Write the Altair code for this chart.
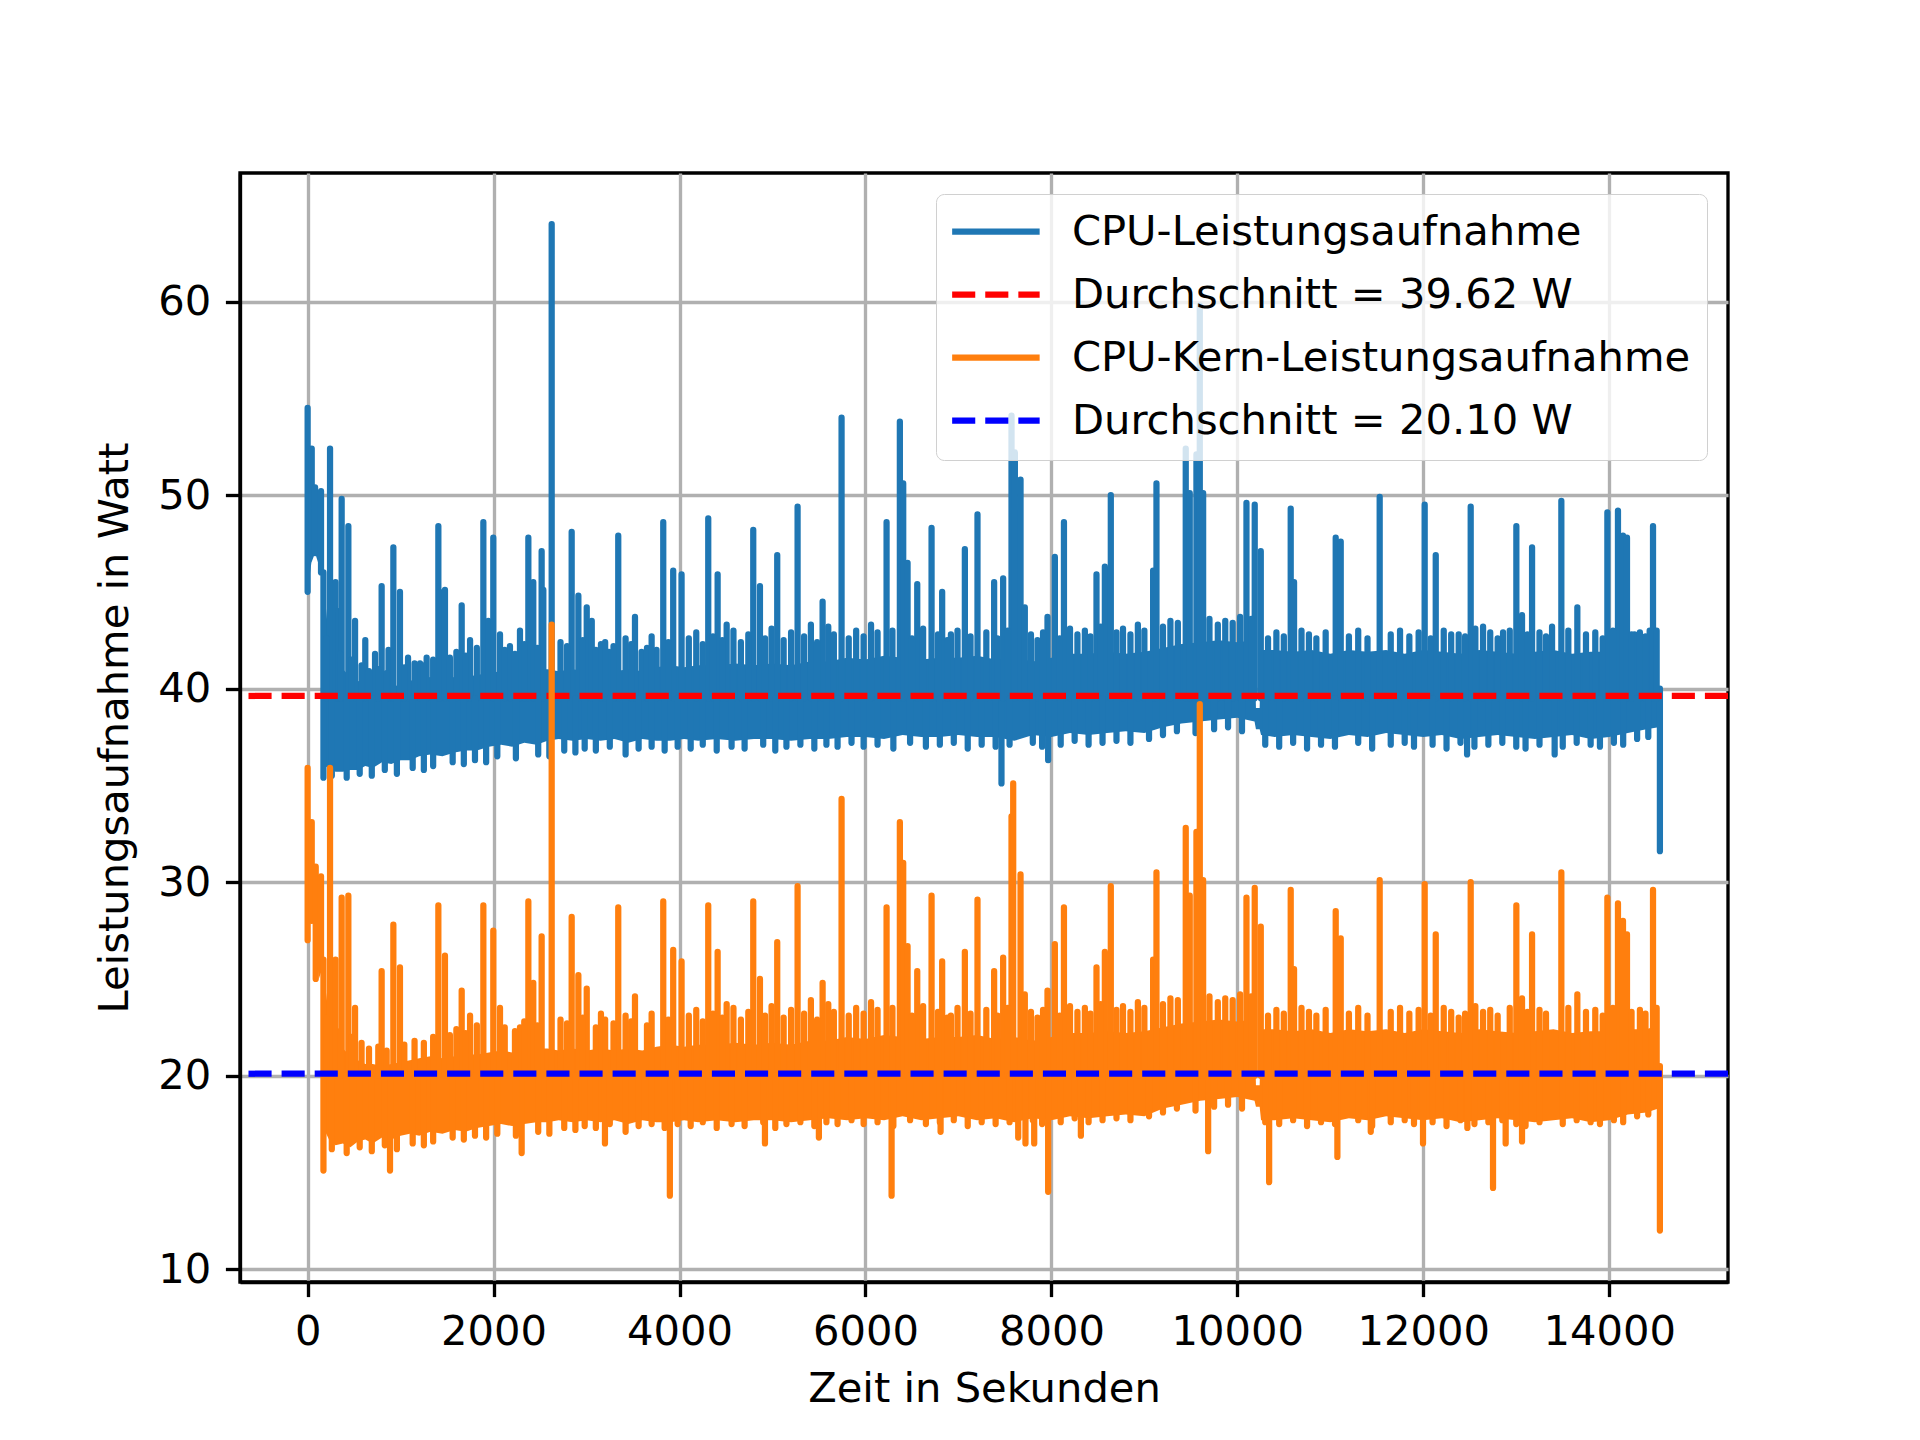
import altair as alt
import pandas as pd

# ---------------- data ----------------
band_t = [0, 40, 80, 120, 155, 180, 230, 300, 380, 460, 540, 620, 700, 800, 900, 1000, 1100, 1200,
          1320, 1450, 1580, 1700, 1820, 1950, 2080, 2200, 2330, 2460, 2580, 2700, 2850, 3000, 3150,
          3300, 3450, 3600, 3750, 3900, 4050, 4200, 4400, 4600, 4800, 5000, 5200, 5400, 5600, 5800,
          6000, 6200, 6400, 6600, 6800, 7000, 7200, 7400, 7600, 7800, 8000, 8200, 8400, 8600, 8800,
          9000, 9200, 9400, 9600, 9800, 10000, 10185, 10200, 10240, 10255, 10400, 10600, 10800,
          11000, 11200, 11400, 11600, 11800, 12000, 12200, 12400, 12600, 12800, 13000, 13200, 13400,
          13600, 13800, 14000, 14200, 14400, 14530]

cpu_low = [45.0, 46.5, 47.0, 46.4, 46.0, 36.0, 35.9, 35.7, 35.7, 35.8, 35.8, 36.0, 35.9, 36.2, 36.1,
           36.3, 36.3, 36.5, 36.6, 36.5, 36.7, 36.8, 36.8, 37.0, 37.1, 37.0, 37.2, 37.1, 37.3, 37.4,
           37.3, 37.4, 37.3, 37.4, 37.2, 37.4, 37.3, 37.3, 37.4, 37.3, 37.4, 37.3, 37.4, 37.4, 37.3,
           37.4, 37.4, 37.5, 37.5, 37.4, 37.6, 37.5, 37.5, 37.6, 37.5, 37.5, 37.3, 37.6, 37.5, 37.7,
           37.6, 37.7, 37.8, 37.7, 38.0, 38.2, 38.3, 38.4, 38.5, 38.3, 37.9, 37.9, 37.6, 37.5, 37.6,
           37.5, 37.4, 37.6, 37.5, 37.7, 37.6, 37.5, 37.6, 37.4, 37.5, 37.6, 37.5, 37.4, 37.5, 37.6,
           37.4, 37.5, 37.7, 37.9, 38.0]
cpu_high = [50.0, 50.3, 50.4, 50.1, 49.0, 45.0, 42.5, 41.5, 41.0, 40.6, 40.4, 40.2, 40.1, 40.0, 40.1,
            40.2, 40.4, 40.5, 40.6, 40.5, 40.6, 40.6, 40.7, 40.8, 40.9, 40.8, 40.9, 41.0, 41.0, 40.9,
            41.0, 40.9, 41.0, 40.9, 41.0, 40.9, 41.1, 41.2, 41.1, 41.2, 41.2, 41.3, 41.2, 41.3, 41.2,
            41.4, 41.4, 41.6, 41.5, 41.7, 41.6, 41.5, 41.6, 41.6, 41.7, 41.5, 41.6, 41.4, 41.6, 41.8,
            41.8, 41.9, 41.8, 41.9, 42.1, 42.3, 42.4, 42.5, 42.4, 42.5, 39.0, 39.0, 42.0, 42.0, 41.9,
            42.0, 41.8, 42.0, 41.9, 42.0, 41.8, 42.0, 41.9, 41.8, 42.0, 41.9, 41.8, 41.9, 42.0, 41.8,
            41.9, 41.9, 42.0, 42.0, 42.2]

core_low = [27.0, 28.5, 27.5, 25.0, 25.5, 17.2, 16.7, 16.4, 16.5, 16.3, 16.6, 16.7, 16.5, 16.8, 16.7,
            16.9, 17.0, 16.9, 17.1, 17.0, 17.2, 17.1, 17.3, 17.4, 17.5, 17.4, 17.5, 17.6, 17.6, 17.7,
            17.6, 17.7, 17.6, 17.7, 17.5, 17.7, 17.6, 17.6, 17.7, 17.6, 17.7, 17.6, 17.7, 17.7, 17.6,
            17.7, 17.8, 17.7, 17.8, 17.7, 17.9, 17.7, 17.8, 17.9, 17.7, 17.8, 17.6, 17.8, 17.7, 17.9,
            17.8, 17.9, 18.0, 17.9, 18.3, 18.5, 18.7, 18.8, 18.9, 18.7, 18.4, 18.4, 17.7, 17.7, 17.8,
            17.7, 17.6, 17.8, 17.7, 17.9, 17.8, 17.7, 17.8, 17.6, 17.7, 17.8, 17.7, 17.6, 17.7, 17.8,
            17.6, 17.7, 18.0, 18.1, 18.3]
core_high = [31.5, 30.8, 30.5, 29.5, 29.0, 25.0, 23.0, 22.1, 21.4, 21.0, 20.8, 20.6, 20.6, 20.5, 20.6,
             20.7, 20.8, 20.9, 21.0, 20.9, 21.0, 21.1, 21.1, 21.2, 21.3, 21.2, 21.3, 21.4, 21.4, 21.3,
             21.4, 21.3, 21.4, 21.3, 21.4, 21.3, 21.5, 21.6, 21.5, 21.6, 21.6, 21.7, 21.6, 21.7, 21.6,
             21.8, 21.8, 22.0, 21.9, 22.1, 22.0, 21.9, 22.0, 22.0, 22.1, 21.9, 22.0, 21.8, 22.0, 22.2,
             22.2, 22.3, 22.2, 22.3, 22.5, 22.7, 22.8, 22.9, 22.8, 22.9, 19.5, 19.5, 22.4, 22.4, 22.3,
             22.4, 22.2, 22.4, 22.3, 22.4, 22.2, 22.4, 22.3, 22.2, 22.4, 22.3, 22.2, 22.3, 22.4, 22.2,
             22.3, 22.3, 22.4, 22.4, 22.6]

# centre level of each band (spikes and hairs start there)
cpu_level = 39.5
core_level = 20.0

# short hairs along the upper / lower band edges
hair_top_t = [200, 350, 470, 580, 660, 760, 850, 1040, 1150, 1250, 1350, 1530, 1600, 1700, 1820,
              2120, 2230, 2330, 2470, 2720, 2790, 2960, 3100, 3200, 3290, 3420, 3480, 3650, 3700,
              3880, 4100, 4180, 4250, 4360, 4460, 4580, 4660, 4740, 4920, 4990, 5120, 5200, 5340,
              5480, 5600, 5660, 5820, 5900, 5980, 6060, 6130, 6290, 6500, 6620, 6780, 6880, 6990,
              7130, 7300, 7420, 7530, 7780, 7850, 7910, 8090, 8200, 8280, 8360, 8420, 8530, 8700,
              8770, 8850, 8930, 9000, 9200, 9280, 9360, 9700, 9790, 9870, 9950, 10030, 10150,
              10330, 10420, 10500, 10690, 10770, 10850, 10950, 11200, 11300, 11400, 11650, 11750,
              11850, 11950, 12080, 12220, 12300, 12450, 12560, 12720, 12800, 12930, 13120, 13250,
              13320, 13560, 13750, 13850, 13930, 14040, 14240, 14330, 14390, 14510]
cpu_hair_top = [42.6, 41.8, 41.5, 41.2, 40.9, 41.0, 40.8, 41.1, 41.3, 41.2,
                41.5, 41.6, 41.9, 41.7, 42.1, 42.0, 41.8, 42.3, 42.1, 42.4,
                42.2, 42.5, 42.0, 42.4, 42.2, 42.6, 42.3, 42.1, 42.7, 42.4,
                42.6, 42.9, 42.3, 42.7, 42.5, 43.0, 42.4, 42.8, 42.6, 43.1,
                42.5, 42.9, 42.7, 42.4, 43.2, 42.8, 42.6, 43.0, 42.7, 43.3,
                42.9, 43.0, 42.6, 43.1, 42.8, 42.5, 43.0, 42.7, 42.9, 42.6,
                43.0, 42.8, 42.5, 42.9, 42.6, 43.1, 42.8, 43.0, 42.7, 43.2,
                42.9, 43.1, 42.8, 43.3, 43.0, 43.2, 43.5, 43.4, 43.6, 43.3,
                43.5, 43.4, 43.7, 43.6, 42.6, 42.9, 42.7, 43.0, 42.8, 42.6,
                42.9, 42.7, 43.0, 42.6, 42.8, 43.0, 42.7, 42.9, 42.6, 43.0,
                42.8, 42.7, 43.1, 42.9, 42.6, 43.0, 42.8, 42.9, 42.7, 43.0,
                42.8, 42.9, 42.6, 43.0, 42.8, 42.9, 42.7, 43.0]
core_hair_top = [23.0, 22.3, 22.0, 21.7, 21.4, 21.5, 21.3, 21.6, 21.8, 21.7,
                 22.0, 22.1, 22.4, 22.2, 22.6, 22.5, 22.3, 22.8, 22.6, 22.9,
                 22.7, 23.0, 22.5, 22.9, 22.7, 23.1, 22.8, 22.6, 23.2, 22.9,
                 23.1, 23.4, 22.8, 23.2, 23.0, 23.5, 22.9, 23.3, 23.1, 23.6,
                 23.0, 23.4, 23.2, 22.9, 23.7, 23.3, 23.1, 23.5, 23.2, 23.8,
                 23.4, 23.5, 23.1, 23.6, 23.3, 23.0, 23.5, 23.2, 23.4, 23.1,
                 23.5, 23.3, 23.0, 23.4, 23.1, 23.6, 23.3, 23.5, 23.2, 23.7,
                 23.4, 23.6, 23.3, 23.8, 23.5, 23.7, 24.0, 23.9, 24.1, 23.8,
                 24.0, 23.9, 24.2, 24.1, 23.1, 23.4, 23.2, 23.5, 23.3, 23.1,
                 23.4, 23.2, 23.5, 23.1, 23.3, 23.5, 23.2, 23.4, 23.1, 23.5,
                 23.3, 23.2, 23.6, 23.4, 23.1, 23.5, 23.3, 23.4, 23.2, 23.5,
                 23.3, 23.4, 23.1, 23.5, 23.3, 23.4, 23.2, 23.5]

hair_bot_t = [260, 420, 560, 690, 830, 960, 1130, 1250, 1350, 1560, 1680, 1800, 1920, 2040, 2240,
              2480, 2600, 2760, 2880, 2980, 3100, 3250, 3420, 3560, 3700, 3840, 3980, 4120, 4250,
              4400, 4560, 4700, 4900, 5030, 5150, 5300, 5450, 5580, 5700, 5850, 5980, 6130, 6300,
              6480, 6650, 6800, 6950, 7100, 7250, 7400, 7550, 7800, 7900, 8100, 8250, 8400, 8550,
              8700, 8850, 9050, 9200, 9350, 9550, 9750, 9900, 10050, 10300, 10450, 10600, 10750,
              10900, 11050, 11300, 11450, 11650, 11800, 11900, 12100, 12250, 12400, 12550, 12700,
              12850, 13000, 13100, 13250, 13500, 13650, 13800, 13900, 14050, 14150, 14300, 14420]
cpu_hair_bot = [35.5, 35.4, 35.6, 35.5, 35.8, 35.6, 35.9, 35.8, 36.0, 36.2,
                36.1, 36.3, 36.2, 36.5, 36.4, 36.6, 36.5, 36.8, 36.7, 36.9,
                36.8, 37.0, 36.6, 36.9, 37.0, 36.8, 37.0, 36.9, 37.1, 36.8,
                37.0, 36.9, 37.1, 36.8, 37.0, 37.1, 36.9, 37.1, 37.0, 37.2,
                37.0, 37.1, 36.9, 37.2, 37.0, 37.1, 37.2, 36.9, 37.1, 37.0,
                37.1, 37.2, 37.0, 37.1, 37.3, 37.1, 37.2, 37.3, 37.2, 37.4,
                37.6, 37.8, 37.7, 37.9, 38.0, 37.8, 37.1, 37.0, 37.2, 36.9,
                37.1, 37.0, 37.2, 36.9, 37.1, 37.2, 37.0, 37.1, 36.9, 37.2,
                37.0, 37.1, 37.2, 37.0, 36.9, 37.1, 37.0, 37.2, 37.1, 37.0,
                37.2, 37.1, 37.4, 37.5]
core_hair_bot = [16.2, 16.0, 16.3, 16.1, 16.4, 16.2, 16.5, 16.4, 16.6, 16.8,
                 16.7, 16.9, 16.8, 17.0, 16.9, 17.1, 17.0, 17.3, 17.2, 17.4,
                 17.3, 17.5, 17.1, 17.4, 17.5, 17.3, 17.5, 17.4, 17.6, 17.3,
                 17.5, 17.4, 17.6, 17.3, 17.5, 17.6, 17.4, 17.6, 17.5, 17.7,
                 17.5, 17.6, 17.4, 17.7, 17.5, 17.6, 17.7, 17.4, 17.6, 17.5,
                 17.6, 17.7, 17.5, 17.6, 17.8, 17.6, 17.7, 17.8, 17.7, 17.9,
                 18.1, 18.3, 18.2, 18.4, 18.5, 18.3, 17.6, 17.5, 17.7, 17.4,
                 17.6, 17.5, 17.7, 17.4, 17.6, 17.7, 17.5, 17.6, 17.4, 17.7,
                 17.5, 17.6, 17.7, 17.5, 17.4, 17.6, 17.5, 17.7, 17.6, 17.5,
                 17.7, 17.6, 17.9, 18.0]

# spikes as (time, from, to)
cpu_spikes = [
    (0, 45.0, 54.5), (44, 47.0, 52.4), (80, 47.0, 50.4), (144, 46.0, 50.2), (170, 35.4, 46.0),
    (241, 39.5, 52.4), (300, 39.5, 45.5), (330, 39.5, 44.0), (366, 39.5, 49.8), (438, 39.5, 48.4),
    (510, 39.5, 43.5), (620, 39.5, 42.5), (725, 39.5, 41.8), (796, 39.5, 45.3), (870, 39.5, 42.0),
    (922, 39.5, 47.3), (993, 39.5, 45.0), (1080, 39.5, 41.6), (1209, 39.5, 41.3), (1280, 39.5, 41.6),
    (1406, 39.5, 48.4), (1420, 39.5, 45.0), (1477, 39.5, 45.1), (1657, 39.5, 44.3), (1747, 39.5, 42.5),
    (1890, 39.5, 48.6), (1943, 39.5, 43.5), (1997, 39.5, 47.8), (2069, 39.5, 42.8), (2176, 39.5, 42.2),
    (2284, 39.5, 43.0), (2374, 39.5, 47.8), (2427, 39.5, 45.5), (2517, 39.5, 47.1), (2535, 39.5, 45.1),
    (2625, 39.5, 64.0), (2840, 39.5, 48.1), (2912, 39.5, 44.8), (3002, 39.5, 44.2), (3056, 39.5, 43.5),
    (3155, 39.5, 42.3), (3241, 39.5, 41.9), (3341, 39.5, 47.9), (3521, 39.5, 43.7), (3592, 39.5, 41.9),
    (3753, 39.5, 42.0), (3825, 39.5, 48.6), (3932, 39.5, 46.1), (4022, 39.5, 45.9), (4309, 39.5, 48.8),
    (4410, 39.5, 45.9), (4507, 39.5, 43.3), (4793, 39.5, 48.2), (4865, 39.5, 45.3), (5051, 39.5, 46.9),
    (5270, 39.5, 49.4), (5413, 39.5, 43.3), (5539, 39.5, 44.5), (5743, 39.5, 54.0), (6227, 39.5, 48.6),
    (6370, 39.5, 53.8), (6406, 39.5, 50.6), (6453, 39.5, 46.5), (6557, 39.5, 45.4), (6711, 39.5, 48.3),
    (6825, 39.5, 45.0), (6919, 39.5, 42.8), (7069, 39.5, 47.2), (7205, 39.5, 49.0), (7384, 39.5, 45.5),
    (7463, 35.1, 39.5), (7481, 39.5, 45.7), (7571, 39.5, 54.1), (7607, 39.5, 52.2), (7668, 39.5, 50.8),
    (7714, 39.5, 44.2), (7958, 39.5, 43.7), (7965, 36.3, 39.5), (8037, 39.5, 46.8), (8135, 39.5, 48.6),
    (8485, 39.5, 45.9), (8575, 39.5, 46.3), (8639, 39.5, 50.0), (9094, 39.5, 46.1), (9130, 39.5, 50.6),
    (9445, 39.5, 52.4), (9488, 39.5, 50.1), (9560, 39.5, 52.1), (9596, 39.5, 59.8), (9632, 39.5, 50.1),
    (10098, 39.5, 49.6), (10187, 39.5, 49.5), (10252, 39.5, 47.1), (10574, 39.5, 49.3), (10610, 39.5, 45.5),
    (11058, 39.5, 47.8), (11112, 39.5, 47.6), (11531, 39.5, 49.9), (12015, 39.5, 49.5), (12134, 39.5, 46.9),
    (12381, 39.5, 42.8), (12471, 36.6, 39.5), (12510, 39.5, 49.4), (12643, 39.5, 43.2), (12858, 39.5, 42.9),
    (13001, 39.5, 48.4), (13062, 39.5, 43.8), (13170, 39.5, 47.3), (13385, 39.5, 43.2), (13413, 36.6, 39.5),
    (13485, 39.5, 49.7), (13657, 39.5, 44.2), (13980, 39.5, 49.1), (14094, 39.5, 49.2), (14148, 39.5, 47.9),
    (14191, 39.5, 47.8), (14273, 39.5, 42.8), (14435, 39.5, 43.0), (14471, 39.5, 48.4), (14545, 31.6, 40.0),
]

core_spikes = [
    (0, 27.0, 35.9), (44, 28.0, 33.1), (87, 25.0, 30.8), (144, 25.5, 30.3), (170, 15.1, 26.0),
    (241, 20.0, 35.9), (300, 20.0, 26.0), (366, 20.0, 29.2), (438, 20.0, 29.3), (510, 20.0, 23.5),
    (796, 20.0, 25.4), (886, 15.1, 20.0), (922, 20.0, 27.8), (993, 20.0, 25.6), (1406, 20.0, 28.8),
    (1477, 20.0, 26.2), (1657, 20.0, 24.4), (1747, 20.0, 23.1), (1890, 20.0, 28.8), (1997, 20.0, 27.5),
    (2069, 20.0, 23.5), (2284, 20.0, 22.5), (2302, 16.0, 20.0), (2374, 20.0, 29.0), (2427, 20.0, 24.8),
    (2517, 20.0, 27.2), (2625, 20.0, 43.3), (2840, 20.0, 28.2), (2912, 20.0, 25.2), (3002, 20.0, 24.5),
    (3155, 20.0, 23.2), (3198, 16.5, 20.0), (3341, 20.0, 28.7), (3521, 20.0, 24.1), (3825, 20.0, 29.0),
    (3896, 13.8, 20.0), (3932, 20.0, 26.5), (4022, 20.0, 25.9), (4309, 20.0, 28.8), (4410, 20.0, 26.4),
    (4507, 20.0, 23.7), (4793, 20.0, 29.0), (4865, 20.0, 25.0), (4919, 16.5, 20.0), (5051, 20.0, 26.9),
    (5270, 20.0, 29.8), (5413, 20.0, 23.9), (5499, 16.8, 20.0), (5539, 20.0, 24.8), (5743, 20.0, 34.3),
    (6227, 20.0, 28.7), (6281, 13.8, 20.0), (6370, 20.0, 33.1), (6406, 20.0, 31.0), (6453, 20.0, 26.7),
    (6557, 20.0, 25.4), (6711, 20.0, 29.3), (6808, 17.1, 20.0), (6825, 20.0, 25.9), (6919, 20.0, 23.1),
    (7069, 20.0, 26.4), (7205, 20.0, 29.1), (7384, 20.0, 25.4), (7481, 20.0, 26.1), (7571, 20.0, 33.4),
    (7589, 20.0, 35.1), (7643, 16.8, 20.0), (7668, 20.0, 30.4), (7714, 20.0, 24.2), (7721, 16.5, 20.0),
    (7815, 16.5, 20.0), (7958, 20.0, 24.4), (7965, 14.0, 20.0), (8037, 20.0, 26.8), (8135, 20.0, 28.7),
    (8317, 16.9, 20.0), (8485, 20.0, 25.6), (8575, 20.0, 26.4), (8639, 20.0, 29.8), (9094, 20.0, 26.0),
    (9130, 20.0, 30.5), (9445, 20.0, 32.8), (9488, 20.0, 29.3), (9560, 20.0, 32.6), (9596, 20.0, 39.2),
    (9632, 20.0, 30.1), (9686, 16.1, 20.0), (10098, 20.0, 29.2), (10187, 20.0, 29.7), (10252, 20.0, 27.7),
    (10342, 14.5, 20.0), (10574, 20.0, 29.6), (10610, 20.0, 25.5), (11058, 20.0, 28.5), (11076, 15.8, 20.0),
    (11112, 20.0, 27.1), (11435, 17.1, 20.0), (11531, 20.0, 30.1), (11997, 16.5, 20.0), (12015, 20.0, 29.9),
    (12134, 20.0, 27.3), (12381, 20.0, 23.0), (12474, 17.3, 20.0), (12510, 20.0, 30.0), (12643, 20.0, 23.3),
    (12750, 14.2, 20.0), (12886, 16.5, 20.0), (13001, 20.0, 28.8), (13062, 16.6, 24.0), (13170, 20.0, 27.3),
    (13485, 20.0, 30.5), (13657, 20.0, 24.2), (13980, 20.0, 29.2), (14094, 20.0, 28.9), (14148, 20.0, 28.0),
    (14191, 20.0, 27.3), (14471, 20.0, 29.6), (14545, 12.0, 20.5),
]

mean_labels = ["Durchschnitt = 39.62 W", "Durchschnitt = 20.10 W"]
mean_values = [39.62, 20.10]

series_names = ["CPU-Leistungsaufnahme", "Durchschnitt = 39.62 W",
                "CPU-Kern-Leistungsaufnahme", "Durchschnitt = 20.10 W"]
series_colors = ["#1f77b4", "#ff0000", "#ff7f0e", "#0000ff"]
series_dashes = [[1, 0], [23.1, 10], [1, 0], [23.1, 10]]

x_ticks = [0, 2000, 4000, 6000, 8000, 10000, 12000, 14000]
y_ticks = [10, 20, 30, 40, 50, 60]


# ---------------- tables ----------------
def rules_table(spikes, top_t, top_v, bot_t, bot_v, level, name):
    rows = list(spikes)
    rows += [(t, level, v) for t, v in zip(top_t, top_v)]
    rows += [(t, v, level) for t, v in zip(bot_t, bot_v)]
    df = pd.DataFrame(rows, columns=["t", "lo", "hi"])
    df["series"] = name
    return df


cpu_band = pd.DataFrame({"t": band_t, "lo": cpu_low, "hi": cpu_high})
core_band = pd.DataFrame({"t": band_t, "lo": core_low, "hi": core_high})
cpu_rules = rules_table(cpu_spikes, hair_top_t, cpu_hair_top, hair_bot_t, cpu_hair_bot,
                        cpu_level, series_names[0])
core_rules = rules_table(core_spikes, hair_top_t, core_hair_top, hair_bot_t, core_hair_bot,
                         core_level, series_names[2])
means = pd.DataFrame({"series": mean_labels, "v": mean_values})

FS = 41.67
LW = 6.25

xscale = alt.Scale(domain=[-727.5, 15277.5], nice=False, zero=False)
yscale = alt.Scale(domain=[9.34, 66.64], nice=False, zero=False)
xaxis = alt.Axis(values=x_ticks, format="d", title="Zeit in Sekunden")
yaxis = alt.Axis(values=y_ticks, format="d", title="Leistungsaufnahme in Watt")

color = alt.Color("series:N", title=None,
                  scale=alt.Scale(domain=series_names, range=series_colors))
dash = alt.StrokeDash("series:N", title=None,
                      scale=alt.Scale(domain=series_names, range=series_dashes))


def band_layer(df, col):
    return alt.Chart(df).mark_area(color=col, opacity=1).encode(
        x=alt.X("t:Q", scale=xscale, axis=xaxis),
        y=alt.Y("lo:Q", scale=yscale, axis=yaxis),
        y2="hi:Q",
    )


def spike_layer(df):
    return alt.Chart(df).mark_rule(strokeWidth=LW, strokeCap="round").encode(
        x=alt.X("t:Q", scale=xscale, axis=xaxis),
        y=alt.Y("lo:Q", scale=yscale, axis=yaxis),
        y2="hi:Q",
        color=color,
        strokeDash=dash,
    )


def mean_layer(df):
    return alt.Chart(df).mark_rule(strokeWidth=LW, strokeCap="butt").encode(
        y=alt.Y("v:Q", scale=yscale, axis=yaxis),
        color=color,
        strokeDash=dash,
    )


chart = alt.layer(
    band_layer(cpu_band, "#1f77b4"),
    spike_layer(cpu_rules),
    mean_layer(means.iloc[[0]]),
    band_layer(core_band, "#ff7f0e"),
    spike_layer(core_rules),
    mean_layer(means.iloc[[1]]),
).properties(
    width=1488, height=1109,
    autosize=alt.AutoSizeParams(type="none"),
    padding={"left": 232, "top": 165, "right": 184, "bottom": 150},
).configure_view(
    stroke="black", strokeWidth=3.33
).configure_axis(
    labelFont="DejaVu Sans", labelFontSize=FS, labelColor="black",
    titleFont="DejaVu Sans", titleFontSize=FS, titleFontWeight="normal", titleColor="black",
    tickColor="black", tickWidth=3.33, tickSize=14.6, labelPadding=14.6,
    domainColor="black", domainWidth=3.33,
    grid=True, gridColor="#b0b0b0", gridWidth=3.33,
).configure_axisX(
    titlePadding=16,
).configure_axisY(
    titlePadding=21,
).configure_legend(
    orient="top-right", offset=20.8, padding=16.7,
    fillColor="rgba(255,255,255,0.8)", strokeColor="#d0d0d0", cornerRadius=8,
    labelFont="DejaVu Sans", labelFontSize=FS, labelColor="black", labelLimit=2000,
    rowPadding=20.0, symbolType="M-2.5,0H2.5", symbolSize=1225,
    symbolStrokeWidth=LW, symbolOffset=22.2, labelOffset=55.0,
)

chart.save("out.html", embed_options={"renderer": "svg", "actions": False})
